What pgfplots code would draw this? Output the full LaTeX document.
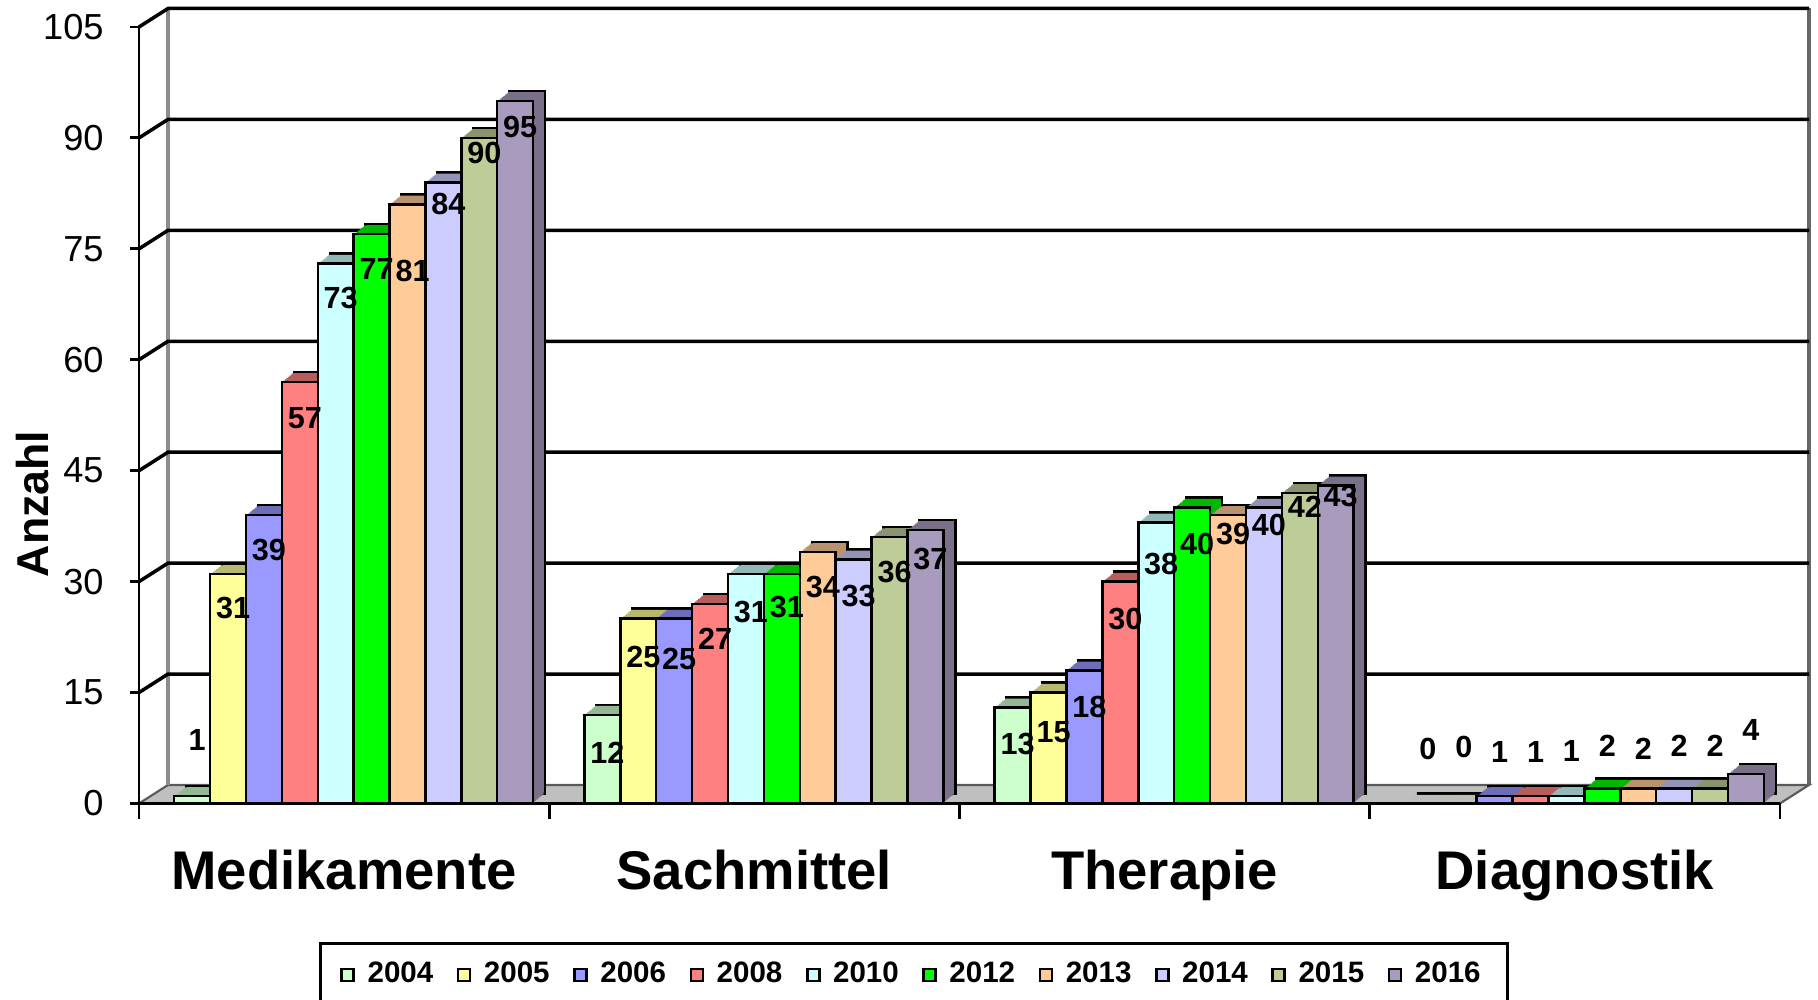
\documentclass[border=0pt]{standalone}
\usepackage{pgfplots}
\pgfplotsset{compat=1.18}
\usepackage{pgfplotstable}
\usepackage{fontspec}
\setmainfont{Liberation Sans}

% Excel-style palette, one colour per year
\definecolor{c2004}{RGB}{204,255,204}
\definecolor{c2005}{RGB}{255,255,153}
\definecolor{c2006}{RGB}{153,153,255}
\definecolor{c2008}{RGB}{255,128,128}
\definecolor{c2010}{RGB}{204,255,255}
\definecolor{c2012}{RGB}{0,255,0}
\definecolor{c2013}{RGB}{255,204,153}
\definecolor{c2014}{RGB}{204,204,255}
\definecolor{c2015}{RGB}{190,204,152}
\definecolor{c2016}{RGB}{169,155,190}

% c = category (0 Medikamente, 1 Sachmittel, 2 Therapie, 3 Diagnostik)
% v = count, l = height at which the count is printed
\pgfplotstableread{
c v l
0 1 8.6
1 12 6.8
2 13 8.1
3 0 7.4
}\yrA
\pgfplotstableread{
c v l
0 31 26.4
1 25 19.8
2 15 9.7
3 0 7.6
}\yrB
\pgfplotstableread{
c v l
0 39 34.3
1 25 19.6
2 18 13.1
3 1 6.9
}\yrC
\pgfplotstableread{
c v l
0 57 52.1
1 27 22.3
2 30 25.0
3 1 6.9
}\yrD
\pgfplotstableread{
c v l
0 73 68.4
1 31 25.9
2 38 32.4
3 1 7.1
}\yrE
\pgfplotstableread{
c v l
0 77 72.3
1 31 26.6
2 40 35.1
3 2 7.8
}\yrF
\pgfplotstableread{
c v l
0 81 72.0
1 34 29.3
2 39 36.5
3 2 7.4
}\yrG
\pgfplotstableread{
c v l
0 84 81.1
1 33 28.1
2 40 37.6
3 2 7.8
}\yrH
\pgfplotstableread{
c v l
0 90 88.0
1 36 31.3
2 42 40.1
3 2 7.8
}\yrI
\pgfplotstableread{
c v l
0 95 91.5
1 37 33.1
2 43 41.6
3 4 9.9
}\yrJ

% bars with a darker extruded top and side face
\pgfplotsset{
  bar3d/.style={
    ybar, bar width=0.0875, bar shift=0pt, forget plot,
    fill=#1, draw=black, line width=0.7pt,
    preaction={fill=#1!72!black, draw=black, line width=0.7pt,
      transform canvas={shift={(0.12cm,0.10cm)}}},
    preaction={fill=#1!72!black, draw=none, transform canvas={shift={(0.105cm,0.0875cm)}}},
    preaction={fill=#1!72!black, draw=none, transform canvas={shift={(0.09cm,0.075cm)}}},
    preaction={fill=#1!72!black, draw=none, transform canvas={shift={(0.075cm,0.0625cm)}}},
    preaction={fill=#1!72!black, draw=none, transform canvas={shift={(0.06cm,0.05cm)}}},
    preaction={fill=#1!72!black, draw=none, transform canvas={shift={(0.045cm,0.0375cm)}}},
    preaction={fill=#1!72!black, draw=none, transform canvas={shift={(0.03cm,0.025cm)}}},
    preaction={fill=#1!72!black, draw=none, transform canvas={shift={(0.015cm,0.0125cm)}}},
  },
}
\tikzset{back/.style={shift={(0.29cm,0.185cm)}}}

% #1 table, #2 slot within the category, #3 colour
\newcommand{\yearbars}[3]{%
  \addplot[bar3d=#3] table[x expr=\thisrow{c}-0.3705+0.0875*#2, y=v] {#1};
  \addplot[draw=none, forget plot, nodes near coords, point meta=\thisrow{v}]
    table[x expr=\thisrow{c}-0.3705+0.0875*#2, y=l] {#1};
}

\begin{document}
\begin{tikzpicture}
\begin{axis}[
  set layers,
  scale only axis, width=16.41cm, height=7.765cm,
  at={(1.39cm,1.965cm)}, anchor=south west,
  xmin=-0.5, xmax=3.5, ymin=0, ymax=105,
  clip=false,
  axis x line*=bottom, axis y line*=left,
  axis line style={-, black, line width=0.8pt},
  tick align=outside, major tick length=0.09cm,
  ytick={0,15,...,105},
  ytick style={black, line width=0.8pt},
  xtick={0,1,2,3},
  xticklabels={Medikamente,Sachmittel,Therapie,Diagnostik},
  xtick style={draw=none},
  xticklabel style={font=\bfseries\fontsize{15.5}{18}\selectfont, yshift=-0.25cm},
  yticklabel style={font=\fontsize{10.3}{12}\selectfont, xshift=-0.14cm},
  /pgf/number format/assume math mode=true,
  every axis y label/.style={at={(rel axis cs:-0.0649,0.3857)}, rotate=90,
    anchor=center, font=\bfseries\fontsize{12.7}{15}\selectfont},
  ylabel={Anzahl},
  every node near coord/.append style={anchor=center, text=black, inner sep=0pt,
    xshift=0.05cm, font=\bfseries\fontsize{8.7}{10}\selectfont},
  legend columns=10,
  legend image code/.code={\draw[draw=black, line width=0.75pt, #1]
    (0cm,-0.06cm) rectangle (0.12cm,0.06cm);},
  legend style={at={(0.4723,-0.178)}, anchor=north, draw=black, line width=0.8pt,
    font=\bfseries\fontsize{8.4}{10}\selectfont,
    inner xsep=0.2cm, inner ysep=0.12cm,
    /tikz/every odd column/.append style={column sep=0.055cm},
    /tikz/every even column/.append style={column sep=0.165cm}},
]
\begin{pgfonlayer}{axis background}
  % floor
  \filldraw[fill=black!25, draw=black!65, line width=0.6pt]
    (axis cs:-0.5,0) -- (axis cs:3.5,0) -- ([back]axis cs:3.5,0)
    -- ([back]axis cs:-0.5,0) -- cycle;
  % back wall edges
  \draw[black!45, line width=0.9pt] ([back]axis cs:-0.5,0) -- ([back]axis cs:-0.5,105);
  \draw[black!60, line width=0.9pt] ([back]axis cs:3.5,0) -- ([back]axis cs:3.5,105);
  % grid on the back wall, tied to the front ticks
  \pgfplotsinvokeforeach{15,30,45,60,75,90,105}{
    \draw[black, line width=1pt] (axis cs:-0.5,#1) -- ([back]axis cs:-0.5,#1)
      -- ([back]axis cs:3.5,#1);
  }
  % category separators below the floor
  \pgfplotsinvokeforeach{-0.5,0.5,1.5,2.5,3.5}{
    \draw[black, line width=0.8pt] (axis cs:#1,0) -- ++(0pt,-0.16cm);
  }
\end{pgfonlayer}

\yearbars{\yrA}{0}{c2004}
\yearbars{\yrB}{1}{c2005}
\yearbars{\yrC}{2}{c2006}
\yearbars{\yrD}{3}{c2008}
\yearbars{\yrE}{4}{c2010}
\yearbars{\yrF}{5}{c2012}
\yearbars{\yrG}{6}{c2013}
\yearbars{\yrH}{7}{c2014}
\yearbars{\yrI}{8}{c2015}
\yearbars{\yrJ}{9}{c2016}

\addlegendimage{fill=c2004}\addlegendentry{2004}
\addlegendimage{fill=c2005}\addlegendentry{2005}
\addlegendimage{fill=c2006}\addlegendentry{2006}
\addlegendimage{fill=c2008}\addlegendentry{2008}
\addlegendimage{fill=c2010}\addlegendentry{2010}
\addlegendimage{fill=c2012}\addlegendentry{2012}
\addlegendimage{fill=c2013}\addlegendentry{2013}
\addlegendimage{fill=c2014}\addlegendentry{2014}
\addlegendimage{fill=c2015}\addlegendentry{2015}
\addlegendimage{fill=c2016}\addlegendentry{2016}
\end{axis}
\pgfresetboundingbox
\useasboundingbox (0,0) rectangle (18.18,10);
\end{tikzpicture}
\end{document}
